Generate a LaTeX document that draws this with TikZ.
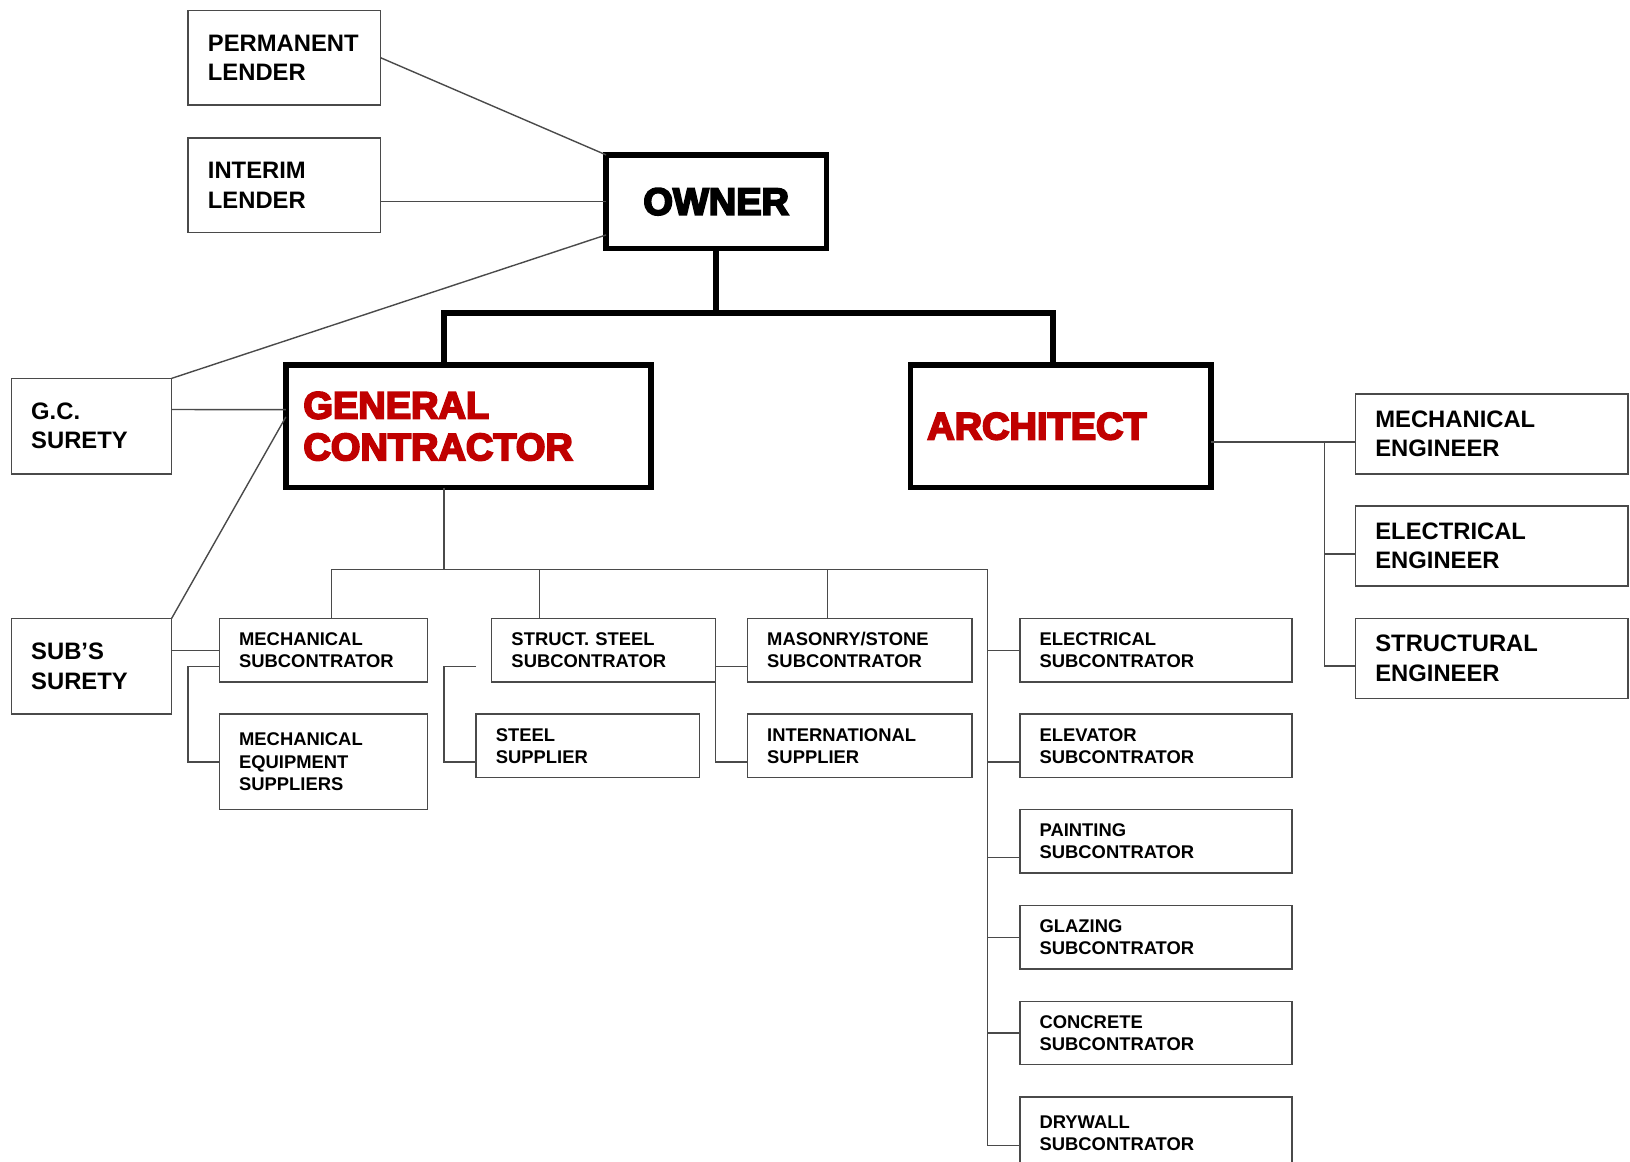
\documentclass[tikz,border=0pt]{standalone}
\usepackage{fontspec}
\setmainfont{Liberation Sans}
\newfontfamily\headfamily{Liberation Sans Bold}[FakeBold=5]
\usetikzlibrary{positioning, calc}
\definecolor{linegray}{HTML}{4A4A4A}
\definecolor{gcred}{HTML}{C00000}
\newcommand{\subboxfont}{\fontsize{9.2pt}{11pt}\selectfont\bfseries}
\newcommand{\partyboxfont}{\fontsize{11.9pt}{14.6pt}\selectfont\bfseries}
\newcommand{\headboxfont}{\fontsize{19pt}{20.8pt}\selectfont\headfamily}
\tikzstyle{link} = [draw=linegray, line width=0.7pt]
\tikzstyle{trunk} = [draw=black, line width=2.8pt]

\begin{document}
\begin{tikzpicture}[
x=0.52pt, y=-0.52pt,
orgbox/.style={
    draw=linegray,
    line width=0.7pt,
    anchor=north west,
    outer sep=0pt,
    inner xsep=9.9pt,
    inner ysep=0pt,
    align=left
    },
subbox/.style={orgbox, font=\subboxfont, text width=#1, minimum height=31.7pt},
lenderbox/.style={orgbox, font=\partyboxfont, text width=76.4pt, minimum height=47.3pt},
suretybox/.style={orgbox, font=\partyboxfont, text width=60.3pt, minimum height=47.8pt},
engbox/.style={orgbox, font=\partyboxfont, text width=116.4pt, minimum height=40pt},
headbox/.style={
    draw=black,
    line width=2.8pt,
    anchor=north west,
    outer sep=0pt,
    inner xsep=8.8pt,
    inner ysep=0pt,
    align=left,
    minimum height=61.4pt,
    font=\headboxfont,
    text=gcred
    }
]
\useasboundingbox (0,0) rectangle (1568,1117);

% owner side
\node[lenderbox] (perm) at (181,10) {PERMANENT\\LENDER};
\node[lenderbox, below=16.6pt of perm] (interim) {INTERIM\\LENDER};
\node[headbox, text=black, align=center, minimum width=110.2pt, minimum height=46.8pt] (owner) at (583,149) {OWNER};

\node[headbox, text width=164.9pt] (gc) at (275,351) {GENERAL\\CONTRACTOR};
\node[headbox, inner xsep=8.3pt, text width=133.7pt] (arch) at (876,351) {ARCHITECT};

\node[suretybox] (gcsurety) at (11,364) {G.C.\\SURETY};
\node[suretybox] (subsurety) at (11,595) {SUB'S\\SURETY};

% subcontractors
\node[subbox=84.2pt] (mechsub) at (211,595) {MECHANICAL\\SUBCONTRATOR};
\node[subbox=84.2pt, minimum height=47.8pt, font=\fontsize{9.2pt}{11.2pt}\selectfont\bfseries, below=16.1pt of mechsub] (mecheq) {MECHANICAL\\EQUIPMENT\\SUPPLIERS};
\node[subbox=92pt] (steelsub) at (473,595) {STRUCT. STEEL\\SUBCONTRATOR};
\node[subbox=92pt] (steelsup) at (458,687) {STEEL\\SUPPLIER};
\node[subbox=92.5pt] (masonry) at (719,595) {MASONRY/STONE\\SUBCONTRATOR};
\node[subbox=92.5pt, below=16.1pt of masonry] (intl) {INTERNATIONAL\\SUPPLIER};

\node[subbox=116.4pt] (elecsub) at (981,595) {ELECTRICAL\\SUBCONTRATOR};
\node[subbox=116.4pt, below=16.1pt of elecsub] (elevsub) {ELEVATOR\\SUBCONTRATOR};
\node[subbox=116.4pt, below=16.1pt of elevsub] (paintsub) {PAINTING\\SUBCONTRATOR};
\node[subbox=116.4pt, below=16.4pt of paintsub] (glazsub) {GLAZING\\SUBCONTRATOR};
\node[subbox=116.4pt, below=16.1pt of glazsub] (concsub) {CONCRETE\\SUBCONTRATOR};
\node[subbox=116.4pt, minimum height=36pt, below=16.1pt of concsub] (drysub) {DRYWALL\\SUBCONTRATOR};

% engineers
\node[engbox] (mecheng) at (1304,379) {MECHANICAL\\ENGINEER};
\node[engbox, below=16.1pt of mecheng] (eleceng) {ELECTRICAL\\ENGINEER};
\node[engbox, below=16.1pt of eleceng] (structeng) {STRUCTURAL\\ENGINEER};

% lenders and sureties
\draw[link] (perm.east) -- (owner.north west);
\draw[link] (owner.west) -- (owner.west -| interim.east);
\draw[link] ($(owner.south west)+(0,-13)$) -- (gcsurety.north east);
\draw[link] ($(gcsurety.east)+(0,-16)$) -- ($(gc.west)+(0,-16)$);
\draw[link] ($(gc.west)+(0,-9)$) -- (subsurety.north east);
\draw[link] (mechsub.west) -- (mechsub.west -| subsurety.east);

% owner trunk
\coordinate (gcbus) at (427,301);
\coordinate (archbus) at (1013,301);
\draw[trunk] (owner.south) -- (owner.south |- gcbus);
\draw[trunk] (gcbus |- gc.north) -- (gcbus) -- (archbus) -- (archbus |- arch.north);

% contractor bus
\coordinate (subbus) at (427,548);
\coordinate (busL) at (319,548);
\coordinate (busR) at (950,548);
\coordinate (drytap) at ($(drysub.north west)+(0,47)$);
\draw[link] (subbus |- gc.south) -- (subbus);
\draw[link] (busL |- mechsub.north) -- (busL) -- (busR) -- (busR |- drytap);
\draw[link] ($(steelsub.north west)+(46,0)$) coordinate (drop) -- (drop |- busL);
\draw[link] ($(masonry.north west)+(77,0)$) coordinate (drop) -- (drop |- busL);

% suppliers
\draw[link] ($(mechsub.south west)+(0,-15)$) -- ++(-30,0) |- (mecheq.west);
\draw[link] ($(steelsup.north west)+(0,-46)$) -- ++(-31,0) |- ($(steelsup.south west)+(0,-15)$);
\draw[link] ($(masonry.south west)+(0,-15)$) -- ($(steelsub.south east)+(0,-15)$) |- ($(intl.south west)+(0,-15)$);

\foreach \n/\dy in {elecsub/0, elevsub/15.5, paintsub/15.5, glazsub/0, concsub/0}
    \draw[link] ($(\n.west)+(0,\dy)$) coordinate (tap) -- (tap -| busR);
\draw[link] (drytap) -- (drytap -| busR);

% architect side
\coordinate (archtap) at ($(arch.east)+(0,15)$);
\coordinate (engbus) at ($(mecheng.west)+(-30,0)$);
\coordinate (stap) at ($(structeng.west)+(0,7.5)$);
\draw[link] (archtap) -- (archtap -| mecheng.west);
\draw[link] (engbus |- archtap) -- (engbus |- stap);
\foreach \n in {eleceng, structeng}
    \draw[link] ($(\n.west)+(0,7.5)$) coordinate (tap) -- (tap -| engbus);

\end{tikzpicture}
\end{document}
